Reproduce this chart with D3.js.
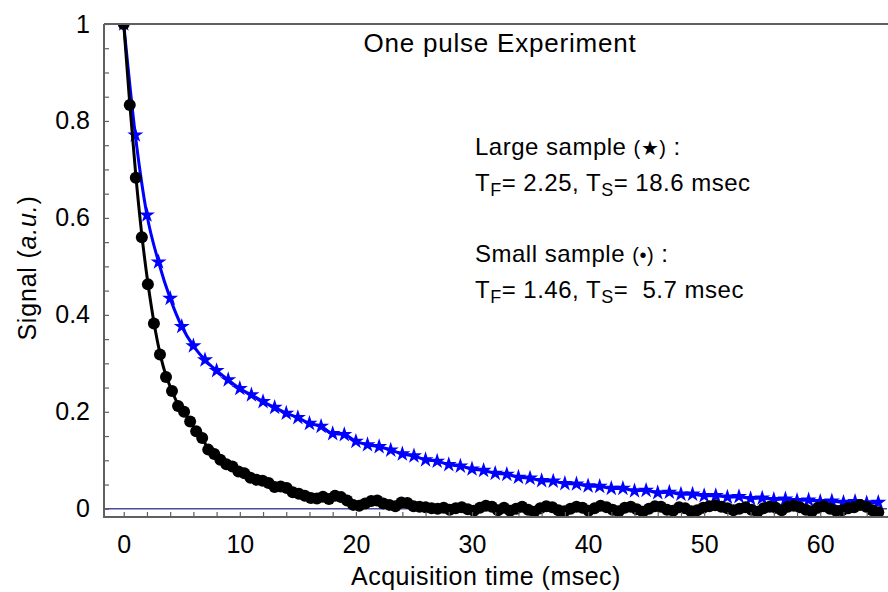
<!DOCTYPE html>
<html><head><meta charset="utf-8">
<script src="https://cdn.jsdelivr.net/npm/d3@7"></script>
<style>
body{margin:0;background:#fff}
text{font-family:"Liberation Sans",Arial,Helvetica,sans-serif;fill:#000;white-space:pre}
</style>
</head><body>
<svg id="c" width="888" height="592"></svg>
<script>
// ---- data ----
const largeDt = 1.0;   // ms between star points
const largeSample = [1.000,0.771,0.606,0.509,0.434,0.376,0.336,0.307,0.285,0.266,0.248,0.235,0.221,0.209,0.197,0.188,0.176,0.170,0.155,0.153,0.139,0.132,0.128,0.121,0.113,0.109,0.101,0.098,0.091,0.088,0.082,0.079,0.073,0.071,0.065,0.063,0.058,0.057,0.052,0.051,0.047,0.046,0.042,0.042,0.037,0.038,0.033,0.034,0.030,0.030,0.027,0.027,0.024,0.025,0.021,0.022,0.019,0.020,0.017,0.018,0.015,0.016,0.013,0.015,0.012,0.013];
const smallDt = 0.52;  // ms between dot points
const smallSample = [1.000,0.833,0.683,0.560,0.463,0.382,0.318,0.272,0.243,0.212,0.200,0.180,0.160,0.146,0.122,0.113,0.101,0.092,0.087,0.077,
0.073,0.064,0.060,0.058,0.053,0.045,0.046,0.043,0.034,0.031,0.027,0.022,0.021,0.025,0.020,0.027,0.024,0.017,0.008,0.006,
0.011,0.016,0.017,0.011,0.008,0.005,0.013,0.012,0.005,0.004,0.003,0.001,0.000,0.002,-0.002,0.001,0.003,-0.001,-0.004,0.002,
0.006,0.004,-0.003,0.002,-0.004,0.000,0.004,-0.002,-0.006,0.001,0.005,0.003,-0.003,-0.005,0.000,0.004,0.002,-0.004,0.001,0.006,
0.003,-0.002,-0.005,0.002,0.004,-0.001,-0.006,0.000,0.005,0.004,-0.002,-0.004,0.003,0.001,-0.005,-0.003,0.002,0.005,0.007,0.004,
0.001,-0.003,0.000,0.003,-0.002,-0.006,0.001,0.004,0.002,-0.003,0.004,0.006,0.003,-0.002,-0.005,0.002,0.005,0.000,-0.004,-0.003,
0.001,0.003,0.008,0.004,-0.003,-0.007];
const xTickLabels = [0,10,20,30,40,50,60];
const xMinorTicks = d3.range(0, 66, 2);
const yTickLabels = [0,0.2,0.4,0.6,0.8,1];
const yMinorTicks = d3.range(0, 1.0001, 0.05);
const titleText = "One pulse Experiment";

// ---- layout ----
const svg = d3.select("#c");
const L = 104, R = 887, T = 24, B = 517;
const x = d3.scaleLinear().domain([-1.7, 65.75]).range([L, R]);
const y = d3.scaleLinear().domain([-0.017, 1.0]).range([B, T]);

const large = largeSample.map((v,i)=>({t:i*largeDt, v}));
const small = smallSample.map((v,i)=>({t:i*smallDt, v}));

svg.append("clipPath").attr("id","pc").append("rect")
  .attr("x",L).attr("y",T).attr("width",R-L).attr("height",B-T);

// zero line
svg.append("line").attr("x1",L).attr("x2",R).attr("y1",y(0)).attr("y2",y(0))
  .attr("stroke","#4a4aa0").attr("stroke-width",1.3);

const plot = svg.append("g").attr("clip-path","url(#pc)");

const lineBlue = d3.line().x(d=>x(d.t)).y(d=>y(d.v)).curve(d3.curveMonotoneX);
const lineBlack = d3.line().x(d=>x(d.t)).y(d=>y(d.v)).curve(d3.curveBasis);

plot.append("path").datum(large).attr("d",lineBlue)
  .attr("fill","none").attr("stroke","#0000ff").attr("stroke-width",3);
plot.selectAll(".star").data(large).join("path").attr("class","star")
  .attr("d", d3.symbol(d3.symbolStar, 80))
  .attr("transform", d=>`translate(${x(d.t)},${y(d.v)})`)
  .attr("fill","#0000ff");

plot.append("path").datum(small).attr("d",lineBlack)
  .attr("fill","none").attr("stroke","#000").attr("stroke-width",3);
plot.selectAll(".dot").data(small).join("circle").attr("class","dot")
  .attr("cx", d=>x(d.t)).attr("cy", d=>y(d.v)).attr("r",6).attr("fill","#000");

// ---- axes ----
const axisColor = "#606060";
const gxMinor = svg.append("g").attr("transform",`translate(0,${B})`)
  .call(d3.axisBottom(x).tickValues(xMinorTicks).tickSizeInner(-5).tickSizeOuter(0).tickFormat(""));
gxMinor.select(".domain").remove();
const gxLab = svg.append("g").attr("transform",`translate(0,${B})`)
  .call(d3.axisBottom(x).tickValues(xTickLabels).tickSize(0).tickPadding(18).tickFormat(d3.format("d")));
gxLab.select(".domain").remove();
gxLab.selectAll("text").attr("font-size",25).attr("font-family","Liberation Sans, Arial, sans-serif");

const gyMinor = svg.append("g").attr("transform",`translate(${L},0)`)
  .call(d3.axisLeft(y).tickValues(yMinorTicks).tickSizeInner(-5).tickSizeOuter(0).tickFormat(""));
gyMinor.select(".domain").remove();
const gyLab = svg.append("g").attr("transform",`translate(${L},0)`)
  .call(d3.axisLeft(y).tickValues(yTickLabels).tickSize(0).tickPadding(14)
    .tickFormat(v => (v===0||v===1) ? d3.format("d")(v) : d3.format(".1f")(v)));
gyLab.select(".domain").remove();
gyLab.selectAll("text").attr("font-size",25).attr("font-family","Liberation Sans, Arial, sans-serif");

svg.selectAll(".tick line").attr("stroke",axisColor).attr("stroke-width",1.2);

// frame lines
svg.append("path").attr("d",`M${L},${T}H888M${L},${T}V${B}H888`)
  .attr("fill","none").attr("stroke",axisColor).attr("stroke-width",2);

// ---- text ----
svg.append("text").attr("x",500).attr("y",52).attr("text-anchor","middle")
  .attr("font-size",26).attr("letter-spacing",0.8).text(titleText);

const xt = svg.append("text").attr("x",486).attr("y",585).attr("text-anchor","middle")
  .attr("font-size",25).attr("letter-spacing",0.5);
xt.append("tspan").text("Acquisition time ");
xt.append("tspan").text("(msec)");

const yt = svg.append("text").attr("transform","translate(36,268) rotate(-90)")
  .attr("text-anchor","middle").attr("font-size",25).attr("letter-spacing",0.8);
yt.append("tspan").text("Signal (");
yt.append("tspan").attr("font-style","italic").text("a.u.");
yt.append("tspan").text(")");

function legendLine(yy, parts){
  const t = svg.append("text").attr("x",475).attr("y",yy).attr("font-size",24).attr("letter-spacing",0.5);
  parts.forEach(p=>{
    const s = t.append("tspan").text(p.s);
    if(p.sub){ s.attr("font-size",18).attr("dy",5); }
    if(p.up){ s.attr("dy",-5); }
    if(p.small){ s.attr("font-size",20); }
  });
}
legendLine(155, [{s:"Large sample "},{s:"(\u2605)",small:true},{s:" :"}]);
legendLine(191, [{s:"T"},{s:"F",sub:true},{s:"= 2.25, T",up:true},{s:"S",sub:true},{s:"= 18.6 msec",up:true}]);
legendLine(262, [{s:"Small sample "},{s:"(\u2022)",small:true},{s:" :"}]);
legendLine(298, [{s:"T"},{s:"F",sub:true},{s:"= 1.46, T",up:true},{s:"S",sub:true},{s:"=  5.7 msec",up:true}]);
</script>
</body></html>
